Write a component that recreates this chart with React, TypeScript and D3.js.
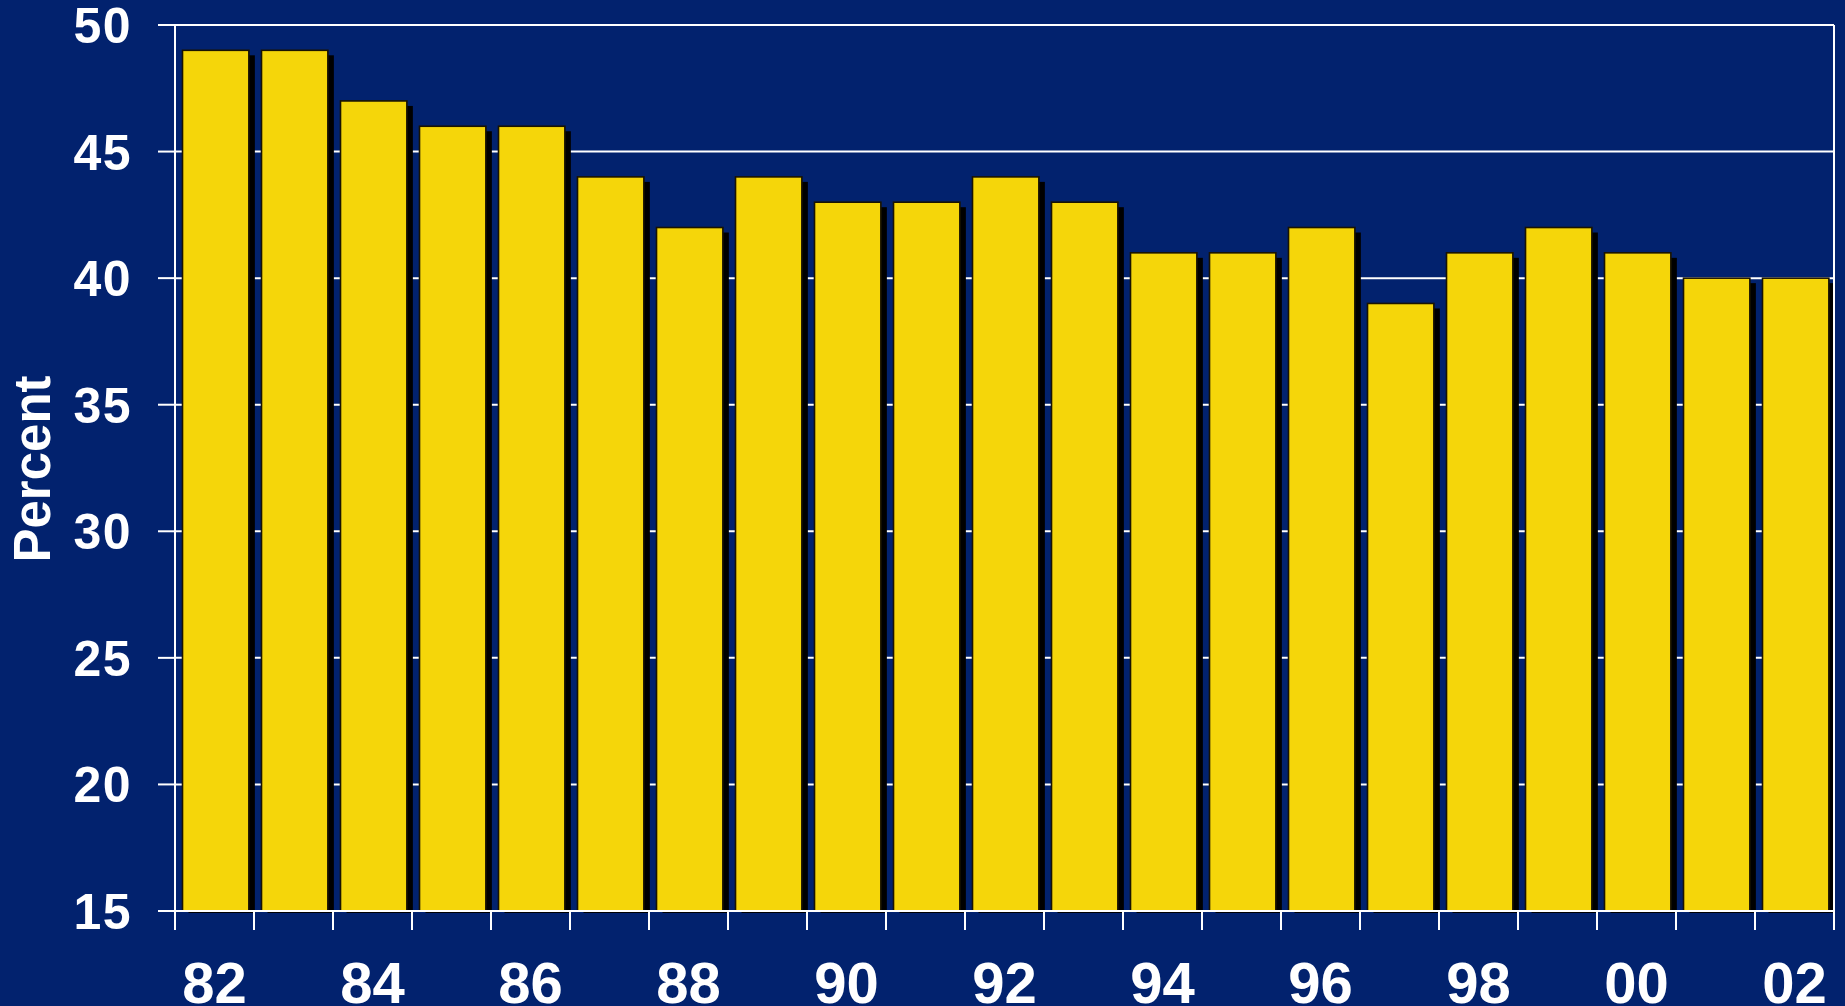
import React from "react";
import * as d3 from "d3";

const years = ["82","83","84","85","86","87","88","89","90","91","92","93","94","95","96","97","98","99","00","01","02"];
const values = [49,49,47,46,46,44,42,44,43,43,44,43,41,41,42,39,41,42,41,40,40];
const yTicks = [15,20,25,30,35,40,45,50];
const xLabelYears = ["82","84","86","88","90","92","94","96","98","00","02"];

const W = 1845, H = 1006;
const left = 175, right = 1834, top = 25, bottom = 911;
const BG = "#02226E";
const YELLOW = "#F5D60A";
const FONT = "'Liberation Sans', Arial, sans-serif";

export default function App() {
  const x = d3.scaleBand<string>().domain(years).range([left, right]).paddingInner(0).paddingOuter(0);
  const y = d3.scaleLinear().domain([15, 50]).range([bottom, top]);
  const bw = x.bandwidth();
  const barW = bw * 0.84;
  const barOff = bw * 0.095;
  const sdx = 6, sdy = 5;

  return (
    <svg width={W} height={H} style={{ position: "fixed", left: 0, top: 0, display: "block" }}>
      <rect x={0} y={0} width={W} height={H} fill={BG} />
      {yTicks.map((t) => (
        <line key={"g" + t} x1={left} x2={right} y1={y(t)} y2={y(t)} stroke="#ffffff" strokeWidth={2} />
      ))}
      {years.map((yr, i) => (
        <rect key={"s" + yr} x={(x(yr) as number) + barOff + sdx} y={y(values[i]) + sdy}
          width={barW} height={bottom + 2 - y(values[i]) - sdy} fill="#000000" />
      ))}
      {years.map((yr, i) => (
        <rect key={"b" + yr} x={(x(yr) as number) + barOff} y={y(values[i])}
          width={barW} height={bottom - y(values[i])} fill={YELLOW} stroke="#1a1400" strokeWidth={1.6} />
      ))}
      {/* axes */}
      <line x1={left} x2={left} y1={top} y2={bottom} stroke="#ffffff" strokeWidth={2} />
      <line x1={right} x2={right} y1={top} y2={bottom + 19} stroke="#ffffff" strokeWidth={2} />
      <line x1={left - 17} x2={right} y1={bottom} y2={bottom} stroke="#ffffff" strokeWidth={2} />
      <line x1={left - 17} x2={right} y1={top} y2={top} stroke="#ffffff" strokeWidth={2} />
      {yTicks.map((t) => (
        <line key={"yt" + t} x1={left - 17} x2={left} y1={y(t)} y2={y(t)} stroke="#ffffff" strokeWidth={2} />
      ))}
      {years.map((yr) => (
        <line key={"xt" + yr} x1={x(yr) as number} x2={x(yr) as number} y1={bottom} y2={bottom + 19} stroke="#ffffff" strokeWidth={2} />
      ))}
      {yTicks.map((t) => (
        <text key={"yl" + t} x={132} y={y(t)} dy="0.36em" textAnchor="end" fill="#ffffff"
          fontFamily={FONT} fontWeight="bold" fontSize={50} letterSpacing={1.5}>{t}</text>
      ))}
      {xLabelYears.map((yr) => (
        <text key={"xl" + yr} x={(x(yr) as number) + bw / 2} y={1003} textAnchor="middle" fill="#ffffff"
          fontFamily={FONT} fontWeight="bold" fontSize={58}>{yr}</text>
      ))}
      <text transform={`translate(50,469) rotate(-90)`} textAnchor="middle" fill="#ffffff"
        fontFamily={FONT} fontWeight="bold" fontSize={51}>Percent</text>
    </svg>
  );
}
